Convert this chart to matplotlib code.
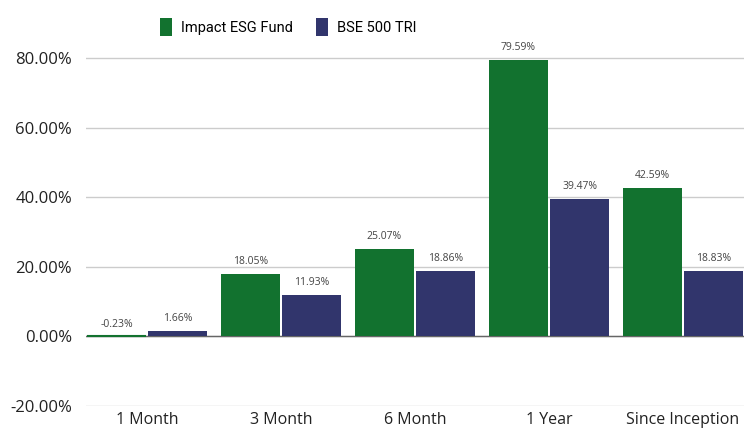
import numpy as np
import matplotlib.pyplot as plt

periods = ['1 Month', '3 Month', '6 Month', '1 Year', 'Since Inception']
fund = [-0.23, 18.05, 25.07, 79.59, 42.59]
bench = [1.66, 11.93, 18.86, 39.47, 18.83]
names = ['Impact ESG Fund', 'BSE 500 TRI']

green = '#12722f'
navy = '#31356c'

plt.rcParams['font.family'] = ['Open Sans', 'DejaVu Sans']

fig = plt.figure(figsize=(7.44, 4.29), dpi=100)
ax = fig.add_axes([86/744, 1 - 406/429, 1 - 86/744, 365/429])

x = np.arange(len(periods))
w = 0.435
off = 0.228
b1 = ax.bar(x - off, fund, w, color=green, label=names[0], zorder=3)
b2 = ax.bar(x + off, bench, w, color=navy, label=names[1], zorder=3)

for bars, vals in ((b1, fund), (b2, bench)):
    for r, v in zip(bars, vals):
        top = max(v, 0)
        ax.annotate(f'{v:.2f}%', (r.get_x() + r.get_width()/2, top),
                    xytext=(0, 5), textcoords='offset points',
                    ha='center', va='bottom', fontsize=7.5, color='#444444')

ax.set_xlim(-0.455, 4.455)
ax.set_ylim(-20, 85)
ax.set_yticks([-20, 0, 20, 40, 60, 80])
ax.set_yticklabels([f'{t:.2f}%' for t in [-20, 0, 20, 40, 60, 80]])
ax.set_xticks(x)
ax.set_xticklabels(periods)
ax.tick_params(axis='both', length=0, labelsize=11.5, colors='#222222')
ax.tick_params(axis='y', pad=10, labelsize=12)
ax.tick_params(axis='x', pad=4)
ax.grid(axis='y', color='#cccccc', linewidth=1, zorder=0)
ax.axhline(0, color='#666666', linewidth=1, zorder=2)
# the -0.23% bar is thinner than a pixel, draw it as a green stroke on the zero line
ax.hlines(0, b1[0].get_x(), b1[0].get_x() + w, color=green, linewidth=1.5, zorder=4)
for s in ax.spines.values():
    s.set_visible(False)

fig.legend(loc='center', bbox_to_anchor=(288/744, 1 - 27/429), ncol=2,
           frameon=False, prop={'family': ['Roboto', 'DejaVu Sans'], 'size': 10.5},
           handlelength=0.85, handleheight=1.6,
           columnspacing=1.6, handletextpad=0.6)

fig.savefig('out.png', dpi=100)
